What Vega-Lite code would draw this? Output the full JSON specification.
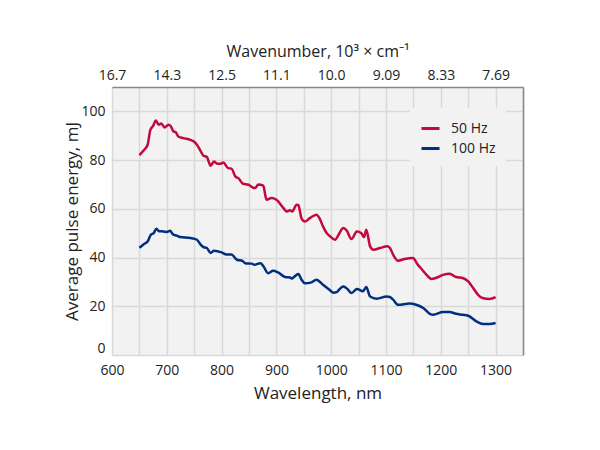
{
  "$schema": "https://vega.github.io/schema/vega-lite/v6.json",
  "autosize": "none",
  "width": 411,
  "height": 268,
  "padding": {"left": 112, "top": 87, "right": 77, "bottom": 95},
  "background": "white",
  "config": {
    "view": {"fill": "#f2f2f2", "stroke": null},
    "font": "Open Sans",
    "axis": {"labelFont": "Open Sans", "titleFont": "Open Sans", "labelColor": "#222222", "titleColor": "#222222", "titleFontWeight": "normal", "labelFontSize": 14, "titleFontSize": 17, "gridColor": "#d9d9d9", "gridWidth": 1.5}
  },
  "data": {"values": [
    {"wl": 650, "e": 82, "f": "50 Hz"}, {"wl": 658, "e": 84, "f": "50 Hz"}, {"wl": 665, "e": 86.3, "f": "50 Hz"}, {"wl": 670, "e": 92.4, "f": "50 Hz"}, {"wl": 675, "e": 94, "f": "50 Hz"}, {"wl": 680, "e": 96.3, "f": "50 Hz"}, {"wl": 685, "e": 94.5, "f": "50 Hz"}, {"wl": 690, "e": 95, "f": "50 Hz"}, {"wl": 696, "e": 93.4, "f": "50 Hz"}, {"wl": 703, "e": 94.5, "f": "50 Hz"}, {"wl": 707, "e": 94, "f": "50 Hz"}, {"wl": 712, "e": 91.8, "f": "50 Hz"}, {"wl": 716, "e": 91.5, "f": "50 Hz"}, {"wl": 721, "e": 89.7, "f": "50 Hz"}, {"wl": 730, "e": 89, "f": "50 Hz"}, {"wl": 743, "e": 88.3, "f": "50 Hz"}, {"wl": 750, "e": 87.5, "f": "50 Hz"}, {"wl": 755, "e": 86.3, "f": "50 Hz"}, {"wl": 761, "e": 84, "f": "50 Hz"}, {"wl": 767, "e": 81.8, "f": "50 Hz"}, {"wl": 773, "e": 81.3, "f": "50 Hz"}, {"wl": 780, "e": 77.7, "f": "50 Hz"}, {"wl": 786, "e": 79.4, "f": "50 Hz"}, {"wl": 792, "e": 78.5, "f": "50 Hz"}, {"wl": 798, "e": 78.5, "f": "50 Hz"}, {"wl": 803, "e": 79, "f": "50 Hz"}, {"wl": 812, "e": 76.7, "f": "50 Hz"}, {"wl": 818, "e": 76.5, "f": "50 Hz"}, {"wl": 825, "e": 73.3, "f": "50 Hz"}, {"wl": 831, "e": 72.5, "f": "50 Hz"}, {"wl": 839, "e": 70.3, "f": "50 Hz"}, {"wl": 849, "e": 69.9, "f": "50 Hz"}, {"wl": 855, "e": 69, "f": "50 Hz"}, {"wl": 861, "e": 68.5, "f": "50 Hz"}, {"wl": 867, "e": 70, "f": "50 Hz"}, {"wl": 876, "e": 69.5, "f": "50 Hz"}, {"wl": 882, "e": 63.7, "f": "50 Hz"}, {"wl": 891, "e": 64.4, "f": "50 Hz"}, {"wl": 900, "e": 63.7, "f": "50 Hz"}, {"wl": 913, "e": 60.3, "f": "50 Hz"}, {"wl": 919, "e": 58.9, "f": "50 Hz"}, {"wl": 925, "e": 59.4, "f": "50 Hz"}, {"wl": 929, "e": 58.9, "f": "50 Hz"}, {"wl": 937, "e": 61.7, "f": "50 Hz"}, {"wl": 940, "e": 61.5, "f": "50 Hz"}, {"wl": 946, "e": 56, "f": "50 Hz"}, {"wl": 952, "e": 54.8, "f": "50 Hz"}, {"wl": 961, "e": 56.2, "f": "50 Hz"}, {"wl": 973, "e": 57.6, "f": "50 Hz"}, {"wl": 979, "e": 56, "f": "50 Hz"}, {"wl": 985, "e": 52.8, "f": "50 Hz"}, {"wl": 992, "e": 50, "f": "50 Hz"}, {"wl": 998, "e": 48.7, "f": "50 Hz"}, {"wl": 1007, "e": 47.3, "f": "50 Hz"}, {"wl": 1015, "e": 50, "f": "50 Hz"}, {"wl": 1022, "e": 52.1, "f": "50 Hz"}, {"wl": 1028, "e": 51.2, "f": "50 Hz"}, {"wl": 1037, "e": 47.6, "f": "50 Hz"}, {"wl": 1047, "e": 50.7, "f": "50 Hz"}, {"wl": 1055, "e": 50, "f": "50 Hz"}, {"wl": 1060, "e": 48.4, "f": "50 Hz"}, {"wl": 1064, "e": 51.4, "f": "50 Hz"}, {"wl": 1071, "e": 44.6, "f": "50 Hz"}, {"wl": 1077, "e": 43.2, "f": "50 Hz"}, {"wl": 1089, "e": 43.9, "f": "50 Hz"}, {"wl": 1102, "e": 44.6, "f": "50 Hz"}, {"wl": 1107, "e": 44, "f": "50 Hz"}, {"wl": 1113, "e": 41.2, "f": "50 Hz"}, {"wl": 1122, "e": 38.7, "f": "50 Hz"}, {"wl": 1134, "e": 39.4, "f": "50 Hz"}, {"wl": 1149, "e": 39.8, "f": "50 Hz"}, {"wl": 1158, "e": 37.1, "f": "50 Hz"}, {"wl": 1166, "e": 35, "f": "50 Hz"}, {"wl": 1174, "e": 32.9, "f": "50 Hz"}, {"wl": 1183, "e": 31.2, "f": "50 Hz"}, {"wl": 1192, "e": 31.7, "f": "50 Hz"}, {"wl": 1204, "e": 32.9, "f": "50 Hz"}, {"wl": 1216, "e": 33.4, "f": "50 Hz"}, {"wl": 1228, "e": 32, "f": "50 Hz"}, {"wl": 1240, "e": 31.6, "f": "50 Hz"}, {"wl": 1250, "e": 30.2, "f": "50 Hz"}, {"wl": 1259, "e": 27.5, "f": "50 Hz"}, {"wl": 1268, "e": 24.7, "f": "50 Hz"}, {"wl": 1276, "e": 23.4, "f": "50 Hz"}, {"wl": 1289, "e": 23, "f": "50 Hz"}, {"wl": 1300, "e": 23.8, "f": "50 Hz"},
    {"wl": 650, "e": 44, "f": "100 Hz"}, {"wl": 658, "e": 45.5, "f": "100 Hz"}, {"wl": 665, "e": 46.6, "f": "100 Hz"}, {"wl": 671, "e": 49.4, "f": "100 Hz"}, {"wl": 676, "e": 50, "f": "100 Hz"}, {"wl": 681, "e": 51.8, "f": "100 Hz"}, {"wl": 686, "e": 50.8, "f": "100 Hz"}, {"wl": 694, "e": 50.7, "f": "100 Hz"}, {"wl": 700, "e": 50.5, "f": "100 Hz"}, {"wl": 706, "e": 51, "f": "100 Hz"}, {"wl": 711, "e": 49.6, "f": "100 Hz"}, {"wl": 718, "e": 49, "f": "100 Hz"}, {"wl": 724, "e": 48.4, "f": "100 Hz"}, {"wl": 743, "e": 48, "f": "100 Hz"}, {"wl": 755, "e": 47.3, "f": "100 Hz"}, {"wl": 761, "e": 45.5, "f": "100 Hz"}, {"wl": 767, "e": 44.3, "f": "100 Hz"}, {"wl": 773, "e": 43.9, "f": "100 Hz"}, {"wl": 780, "e": 41.9, "f": "100 Hz"}, {"wl": 786, "e": 42.8, "f": "100 Hz"}, {"wl": 800, "e": 42.1, "f": "100 Hz"}, {"wl": 809, "e": 41.2, "f": "100 Hz"}, {"wl": 818, "e": 41.2, "f": "100 Hz"}, {"wl": 828, "e": 39.1, "f": "100 Hz"}, {"wl": 838, "e": 38.6, "f": "100 Hz"}, {"wl": 843, "e": 37.7, "f": "100 Hz"}, {"wl": 855, "e": 37.5, "f": "100 Hz"}, {"wl": 860, "e": 37, "f": "100 Hz"}, {"wl": 867, "e": 37.5, "f": "100 Hz"}, {"wl": 871, "e": 37.7, "f": "100 Hz"}, {"wl": 876, "e": 36.5, "f": "100 Hz"}, {"wl": 885, "e": 33.6, "f": "100 Hz"}, {"wl": 894, "e": 34.6, "f": "100 Hz"}, {"wl": 903, "e": 33.9, "f": "100 Hz"}, {"wl": 916, "e": 32, "f": "100 Hz"}, {"wl": 925, "e": 31.8, "f": "100 Hz"}, {"wl": 928, "e": 31.4, "f": "100 Hz"}, {"wl": 931, "e": 31.8, "f": "100 Hz"}, {"wl": 940, "e": 33.2, "f": "100 Hz"}, {"wl": 946, "e": 30.9, "f": "100 Hz"}, {"wl": 952, "e": 29.4, "f": "100 Hz"}, {"wl": 964, "e": 29.8, "f": "100 Hz"}, {"wl": 973, "e": 30.9, "f": "100 Hz"}, {"wl": 985, "e": 28.8, "f": "100 Hz"}, {"wl": 995, "e": 27.1, "f": "100 Hz"}, {"wl": 1004, "e": 25.6, "f": "100 Hz"}, {"wl": 1010, "e": 25.8, "f": "100 Hz"}, {"wl": 1015, "e": 27, "f": "100 Hz"}, {"wl": 1022, "e": 28.1, "f": "100 Hz"}, {"wl": 1030, "e": 27, "f": "100 Hz"}, {"wl": 1037, "e": 25.4, "f": "100 Hz"}, {"wl": 1047, "e": 27.1, "f": "100 Hz"}, {"wl": 1058, "e": 26.2, "f": "100 Hz"}, {"wl": 1064, "e": 27.9, "f": "100 Hz"}, {"wl": 1071, "e": 24, "f": "100 Hz"}, {"wl": 1083, "e": 23.1, "f": "100 Hz"}, {"wl": 1101, "e": 24, "f": "100 Hz"}, {"wl": 1107, "e": 23.8, "f": "100 Hz"}, {"wl": 1113, "e": 22.7, "f": "100 Hz"}, {"wl": 1122, "e": 20.6, "f": "100 Hz"}, {"wl": 1143, "e": 21.1, "f": "100 Hz"}, {"wl": 1155, "e": 20.6, "f": "100 Hz"}, {"wl": 1168, "e": 19.3, "f": "100 Hz"}, {"wl": 1180, "e": 16.9, "f": "100 Hz"}, {"wl": 1186, "e": 16.5, "f": "100 Hz"}, {"wl": 1204, "e": 17.6, "f": "100 Hz"}, {"wl": 1216, "e": 17.6, "f": "100 Hz"}, {"wl": 1228, "e": 16.9, "f": "100 Hz"}, {"wl": 1240, "e": 16.5, "f": "100 Hz"}, {"wl": 1250, "e": 16.1, "f": "100 Hz"}, {"wl": 1265, "e": 13.8, "f": "100 Hz"}, {"wl": 1277, "e": 12.7, "f": "100 Hz"}, {"wl": 1289, "e": 12.7, "f": "100 Hz"}, {"wl": 1300, "e": 13.1, "f": "100 Hz"}
  ]},
  "resolve": {"axis": {"x": "independent", "y": "independent"}},
  "layer": [
    {
      "mark": {"type": "line", "interpolate": "monotone", "strokeWidth": 2.5},
      "encoding": {
        "x": {"field": "wl", "type": "quantitative",
          "scale": {"domain": [600, 1350], "nice": false},
          "axis": {"orient": "bottom", "title": "Wavelength, nm", "values": [600, 650, 700, 750, 800, 850, 900, 950, 1000, 1050, 1100, 1150, 1200, 1250, 1300, 1350],
            "labelExpr": "datum.value % 100 == 0 && datum.value <= 1300 ? format(datum.value, 'd') : ''", "labelOverlap": false, "labelFlush": false,
            "domain": false, "ticks": false, "labelPadding": 8, "titlePadding": 8}},
        "y": {"field": "e", "type": "quantitative",
          "scale": {"domain": [0, 110], "nice": false},
          "axis": {"title": "Average pulse energy, mJ", "values": [0, 20, 40, 60, 80, 100], "domain": false, "ticks": false, "labelPadding": 7, "titlePadding": -1, "labelFlush": true}},
        "color": {"field": "f", "type": "nominal",
          "scale": {"domain": ["50 Hz", "100 Hz"], "range": ["#c4073d", "#002f80"]},
          "legend": {"title": null, "orient": "none", "legendX": 298, "legendY": 21, "fillColor": "#f2f2f2", "padding": 10,
            "symbolType": "stroke", "symbolSize": 324, "symbolStrokeWidth": 3, "labelFontSize": 14, "labelFont": "Open Sans", "labelColor": "#222222", "rowPadding": 2, "labelOffset": 10}}
      }
    },
    {
      "mark": {"type": "line", "strokeOpacity": 0},
      "encoding": {
        "x": {"field": "wl", "type": "quantitative",
          "axis": {"orient": "top", "title": "Wavenumber, 10³ × cm⁻¹", "values": [600, 700, 800, 900, 1000, 1100, 1200, 1300],
            "labelExpr": "format(10000 / datum.value, '.3g')", "labelOverlap": false, "labelFlush": false,
            "grid": false, "ticks": false, "domain": true, "domainColor": "#888888", "domainWidth": 1.5, "labelPadding": 5, "titlePadding": 9, "titleFontSize": 16}},
        "y": {"field": "e", "type": "quantitative",
          "axis": {"orient": "right", "title": null, "labels": false, "ticks": false, "grid": false, "domain": true, "domainColor": "#888888", "domainWidth": 1.5}}
      }
    }
  ]
}
